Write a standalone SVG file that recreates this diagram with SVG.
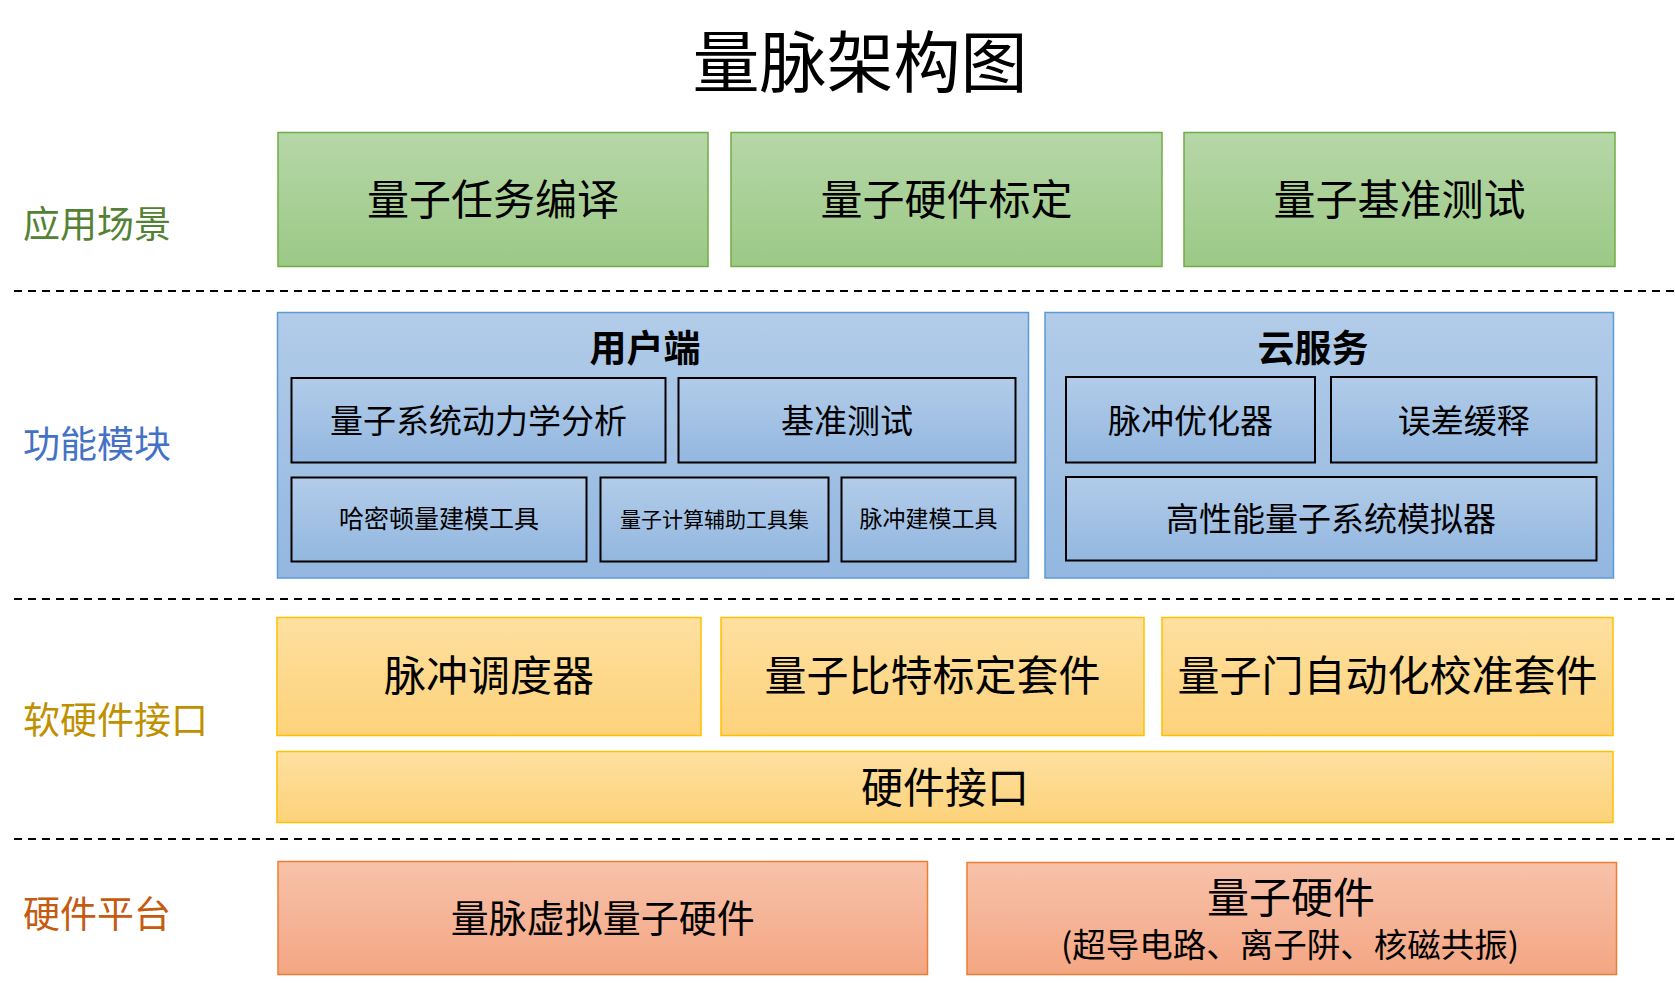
<svg xmlns="http://www.w3.org/2000/svg" width="1675" height="983" viewBox="0 0 1675 983">
<defs>
<linearGradient id="gG" x1="0" y1="0" x2="0" y2="1"><stop offset="0" stop-color="#b6d7a8"/><stop offset="1" stop-color="#9cc986"/></linearGradient>
<linearGradient id="gB" x1="0" y1="0" x2="0" y2="1"><stop offset="0" stop-color="#b2cce9"/><stop offset="1" stop-color="#93b7e0"/></linearGradient>
<linearGradient id="gY" x1="0" y1="0" x2="0" y2="1"><stop offset="0" stop-color="#fee0a0"/><stop offset="1" stop-color="#fdd27a"/></linearGradient>
<linearGradient id="gR" x1="0" y1="0" x2="0" y2="1"><stop offset="0" stop-color="#f7c2aa"/><stop offset="1" stop-color="#f4a683"/></linearGradient>
<style>
text{font-family:"Microsoft YaHei","Noto Sans CJK SC","Noto Sans",sans-serif;fill:#000;text-anchor:middle}
.lbl{text-anchor:start;font-size:37px}
.green{fill:url(#gG);stroke:#70ad47;stroke-width:1.5}
.blue{fill:url(#gB);stroke:#5b9bd5;stroke-width:1.5}
.inner{fill:url(#gB);stroke:#000;stroke-width:2}
.yellow{fill:url(#gY);stroke:#ffc000;stroke-width:1.5}
.red{fill:url(#gR);stroke:#ed7d31;stroke-width:1.5}
.dash{stroke:#000;stroke-width:2;stroke-dasharray:8 6}
.t42{font-size:42px}
.t33{font-size:33px}
.bold{font-size:37px;font-weight:bold}
</style>
</defs>
<rect width="1675" height="983" fill="#fff"/>
<text id="title" x="860" y="87" style="font-size:67px">量脉架构图</text>

<g id="separators">
<line class="dash" x1="14" y1="291" x2="1675" y2="291"/>
<line class="dash" x1="14" y1="599" x2="1675" y2="599"/>
<line class="dash" x1="14" y1="839" x2="1675" y2="839"/>
</g>

<g id="labels">
<text class="lbl" x="23" y="238" style="fill:#548235">应用场景</text>
<text class="lbl" x="23" y="458" style="fill:#4472c4">功能模块</text>
<text class="lbl" x="23" y="734" style="fill:#bf9000">软硬件接口</text>
<text class="lbl" x="23" y="928" style="fill:#c55a11">硬件平台</text>
</g>

<g id="app1"><rect class="green" x="278" y="132.5" width="430" height="134"/><text class="t42" x="493" y="215">量子任务编译</text></g>
<g id="app2"><rect class="green" x="731" y="132.5" width="431" height="134"/><text class="t42" x="946.5" y="215">量子硬件标定</text></g>
<g id="app3"><rect class="green" x="1184" y="132.5" width="431" height="134"/><text class="t42" x="1399.5" y="215">量子基准测试</text></g>

<g id="client">
<rect class="blue" x="277.5" y="312.5" width="751" height="265.5"/>
<text class="bold" x="645" y="362">用户端</text>
</g>
<g id="client_dyn"><rect class="inner" x="291.5" y="378" width="374" height="84.5"/><text class="t33" x="478.5" y="433">量子系统动力学分析</text></g>
<g id="client_bench"><rect class="inner" x="678.5" y="378" width="337" height="84.5"/><text class="t33" x="847" y="433">基准测试</text></g>
<g id="client_ham"><rect class="inner" x="291.5" y="477.5" width="295" height="84"/><text x="439" y="528" style="font-size:25px">哈密顿量建模工具</text></g>
<g id="client_aux"><rect class="inner" x="600.5" y="477.5" width="228" height="84"/><text x="714.5" y="526.5" style="font-size:21px">量子计算辅助工具集</text></g>
<g id="client_pulse"><rect class="inner" x="841.5" y="477.5" width="174" height="84"/><text x="928.5" y="527" style="font-size:23px">脉冲建模工具</text></g>

<g id="cloud">
<rect class="blue" x="1045" y="312.5" width="568.5" height="265.5"/>
<text class="bold" x="1313" y="362">云服务</text>
</g>
<g id="cloud_opt"><rect class="inner" x="1066" y="377" width="249" height="85.5"/><text class="t33" x="1190.5" y="433">脉冲优化器</text></g>
<g id="cloud_mit"><rect class="inner" x="1331" y="377" width="265.5" height="85.5"/><text class="t33" x="1463.7" y="433">误差缓释</text></g>
<g id="cloud_sim"><rect class="inner" x="1066" y="477" width="530.5" height="83.5"/><text class="t33" x="1331" y="531">高性能量子系统模拟器</text></g>

<g id="sched"><rect class="yellow" x="277" y="617.5" width="424" height="118"/><text class="t42" x="489" y="691">脉冲调度器</text></g>
<g id="qubitcal"><rect class="yellow" x="721" y="617.5" width="423" height="118"/><text class="t42" x="932.5" y="691">量子比特标定套件</text></g>
<g id="gatecal"><rect class="yellow" x="1162" y="617.5" width="451" height="118"/><text class="t42" x="1387.5" y="691">量子门自动化校准套件</text></g>
<g id="hwif"><rect class="yellow" x="277" y="751.5" width="1336" height="71"/><text class="t42" x="945" y="803">硬件接口</text></g>

<g id="virtualhw"><rect class="red" x="278" y="861.5" width="649.5" height="113"/><text x="602.7" y="932" style="font-size:38px">量脉虚拟量子硬件</text></g>
<g id="qhw"><rect class="red" x="967" y="862.5" width="649.5" height="112"/><text class="t42" x="1291" y="913">量子硬件</text><text x="1290" y="957" style="font-size:33.5px">(超导电路、离子阱、核磁共振)</text></g>
</svg>
